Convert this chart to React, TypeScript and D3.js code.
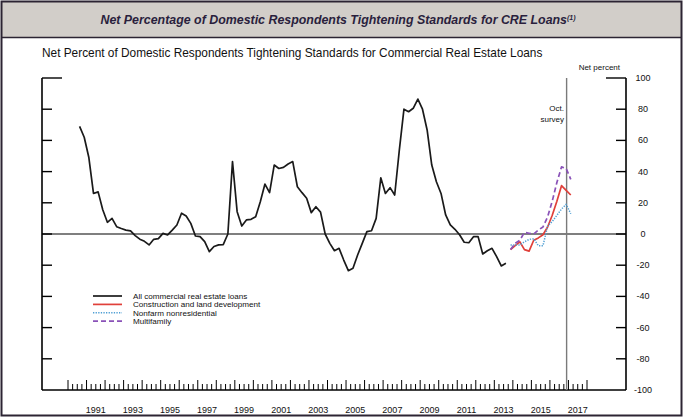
import React from "react";
import * as d3 from "d3";

// ---- data ----
const allCREStart = 1990.625; // first quarterly observation
const allCRE = [69, 62, 49, 26, 27, 15.5, 7.5, 10, 4.7, 3.5,
  2.5, 2, -1, -3.3, -4.7, -7, -3.4, -3, 0.4, -0.6,
  2.5, 5.8, 13.3, 11.5, 6.8, -1.3, -1.7, -4.9, -11.3, -8,
  -7, -6.8, 0, 46.4, 14.3, 5.1, 9, 9.4, 11.1, 20.7,
  32, 26.5, 44.2, 42, 42.7, 44.9, 46.4, 30.3, 26.5, 22.9,
  13.7, 17.5, 14, 0, -6, -10.7, -9.2, -16.7, -23.5, -22,
  -13.5, -6, 1.5, 2.1, 10, 36, 26, 29.7, 25, 53.8,
  80, 78.4, 80.6, 86.5, 80, 66.7, 44.2, 33.5, 26, 12.2,
  5.8, 3, -0.5, -5.3, -5.6, -1.7, -1.7, -12.8, -10.7, -9.2,
  -14.5, -20.5, -18.8];

const splitStart = 2013.875;
const construction = [-10, -7.5, -5, -10, -11, -4, -2.5, -0.5, 4.5, 12, 21, 31, 28, 25];
const nonfarm = [-7, -7, -7, -5, -3.5, -3, -7.5, -7.5, 5, 8, 12, 16, 19, 13];
const multifamily = [-10, -6, -4, 1, 0.5, 0, 2.5, 4.5, 11, 21, 33, 43, 42, 35];

const surveyDate = 2016.9;
const yTicks = [100, 80, 60, 40, 20, 0, -20, -40, -60, -80, -100];
const yearLabels = [1991, 1993, 1995, 1997, 1999, 2001, 2003, 2005, 2007, 2009, 2011, 2013, 2015, 2017];

const seriesDefs = [
  { name: "All commercial real estate loans", color: "#1a1a1a", dash: "", width: 1.7 },
  { name: "Construction and land development", color: "#e0403a", dash: "", width: 1.7 },
  { name: "Nonfarm nonresidential", color: "#4f9fd4", dash: "1.3,1.3", width: 1.5 },
  { name: "Multifamily", color: "#8a52b8", dash: "5,3", width: 1.7 },
];

const FONT = "'Liberation Sans', Arial, Helvetica, sans-serif";

export default function App() {
  const W = 684, H = 417;
  const x = d3.scaleLinear().domain([1990, 2018]).range([68, 587]);
  const y = d3.scaleLinear().domain([-100, 100]).range([390, 78]);
  const plotL = 42, plotR = 626;

  const toPts = (start: number, vals: number[]) => vals.map((v, i) => [start + i * 0.25, v] as [number, number]);
  const line = d3.line<[number, number]>().x(d => x(d[0])).y(d => y(d[1]));

  const series = [
    toPts(allCREStart, allCRE),
    toPts(splitStart, construction),
    toPts(splitStart, nonfarm),
    toPts(splitStart, multifamily),
  ];

  const quarterTicks = d3.range(1990, 2018.01, 0.25);

  return (
    <svg width={W} height={H} style={{ position: "absolute", left: 0, top: 0, background: "#fff" }}
      fontFamily={FONT}>
      {/* title band */}
      <rect x={1.5} y={1.5} width={680} height={36} fill="#d2cec9" />
      <line x1={1.5} x2={681.5} y1={37.5} y2={37.5} stroke="#2c2433" strokeWidth={1.6} />
      <rect x={1.5} y={1.5} width={680} height={414} fill="none" stroke="#2c2433" strokeWidth={2} />
      <text x={338} y={24} textAnchor="middle" fontSize={12.4} fontWeight="bold" fontStyle="italic" fill="#2a1f3d">
        Net Percentage of Domestic Respondents Tightening Standards for CRE Loans
        <tspan fontSize={7} dy={-4}>(1)</tspan>
      </text>
      <text x={42} y={57} fontSize={11.85} fill="#111">
        Net Percent of Domestic Respondents Tightening Standards for Commercial Real Estate Loans
      </text>
      <text x={620} y={70} textAnchor="end" fontSize={8} fill="#111">Net percent</text>

      {/* axes frame */}
      <line x1={plotL} x2={plotL} y1={y(100)} y2={y(-100)} stroke="#000" strokeWidth={1.6} />
      <line x1={plotR} x2={plotR} y1={y(100)} y2={y(-100)} stroke="#000" strokeWidth={1.6} />
      <line x1={plotL} x2={plotR} y1={y(-100)} y2={y(-100)} stroke="#000" strokeWidth={1.6} />
      {yTicks.filter(t => t > -100).map(t => {
        const len = t === 100 ? 20 : 10;
        return (
          <g key={t}>
            <line x1={plotL} x2={plotL + len} y1={y(t)} y2={y(t)} stroke="#000" strokeWidth={1.4} />
            <line x1={plotR - len} x2={plotR} y1={y(t)} y2={y(t)} stroke="#000" strokeWidth={1.4} />
          </g>
        );
      })}
      {yTicks.map(t => (
        <text key={t} x={643} y={y(t) + 3} textAnchor="middle" fontSize={9} fill="#111">{t}</text>
      ))}

      {/* x ticks */}
      {quarterTicks.map((q, i) => {
        const major = i % 4 === 0;
        return <line key={i} x1={x(q)} x2={x(q)} y1={y(-100)} y2={y(-100) - (major ? 10 : 6)}
          stroke="#000" strokeWidth={1} />;
      })}
      {yearLabels.map(yr => (
        <text key={yr} x={x(yr + 0.5)} y={413} textAnchor="middle" fontSize={9} fill="#111">{yr}</text>
      ))}

      {/* zero line */}
      <line x1={plotL} x2={plotR} y1={y(0)} y2={y(0)} stroke="#000" strokeWidth={1.1} />

      {/* survey line */}
      <line x1={x(surveyDate)} x2={x(surveyDate)} y1={y(100)} y2={y(-100)} stroke="#7a7a7a" strokeWidth={1.4} />
      <text x={564} y={111} textAnchor="end" fontSize={8} fill="#111">Oct.</text>
      <text x={564} y={122} textAnchor="end" fontSize={8} fill="#111">survey</text>

      {/* series */}
      {series.map((pts, i) => (
        <path key={i} d={line(pts) || ""} fill="none" stroke={seriesDefs[i].color}
          strokeWidth={seriesDefs[i].width} strokeDasharray={seriesDefs[i].dash} strokeLinejoin="round" />
      ))}

      {/* legend */}
      {seriesDefs.map((s, i) => {
        const ly = 296 + i * 8.4;
        return (
          <g key={s.name}>
            <line x1={93} x2={122} y1={ly} y2={ly} stroke={s.color} strokeWidth={s.width} strokeDasharray={s.dash} />
            <text x={133} y={ly + 2.9} fontSize={8.1} fill="#111">{s.name}</text>
          </g>
        );
      })}
    </svg>
  );
}
